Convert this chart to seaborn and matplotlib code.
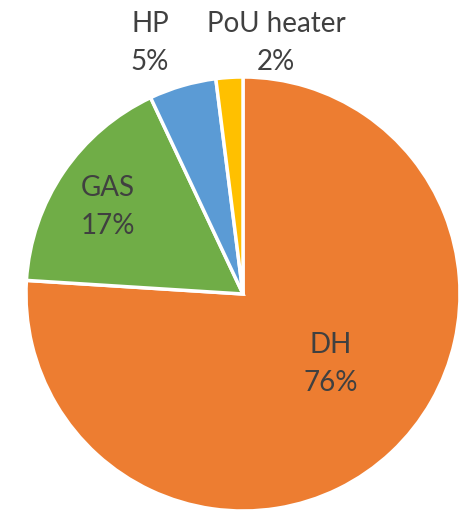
import matplotlib
matplotlib.use("Agg")
import matplotlib.pyplot as plt
import seaborn as sns

sns.set_theme(style="white")
plt.rcParams["font.family"] = ["Lato", "DejaVu Sans"]

categories = ["DH", "GAS", "HP", "PoU heater"]
shares = [76, 17, 5, 2]
colors = ["#ED7D31", "#70AD47", "#5B9BD5", "#FFC000"]

# label anchor positions in pie units (radius = 1)
label_pos = [(0.406, -0.323), (-0.622, 0.401), (-0.429, 1.157), (0.152, 1.157)]

fig = plt.figure(figsize=(4.71, 5.12), dpi=100)
ax = fig.add_axes([26 / 471, 1 / 512, 434 / 471, 434 / 512])

wedges, _ = ax.pie(
    shares,
    colors=colors,
    startangle=90,
    counterclock=False,
    radius=1.0,
    wedgeprops=dict(edgecolor="white", linewidth=2.5),
)
ax.set_xlim(-1, 1)
ax.set_ylim(-1, 1)
ax.set_aspect("equal")
ax.axis("off")

for name, val, (x, y) in zip(categories, shares, label_pos):
    ax.text(x, y, f"{name}\n{val}%", ha="center", va="center",
            fontsize=20, color="#404040", linespacing=1.6, clip_on=False)

fig.savefig("out.png", dpi=100)
